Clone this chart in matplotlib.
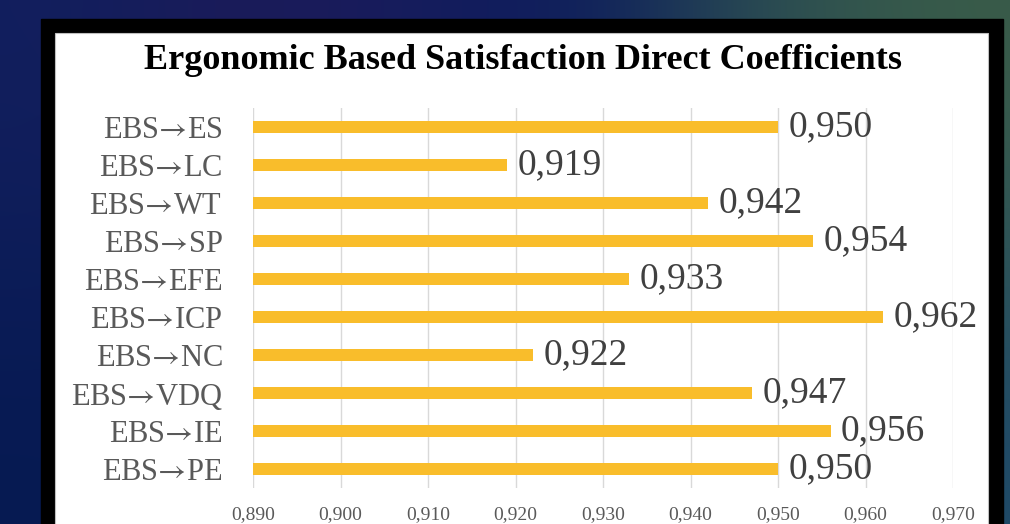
import numpy as np
import matplotlib
matplotlib.use("Agg")
import matplotlib.pyplot as plt
from matplotlib.patches import Rectangle

categories = ["ES", "LC", "WT", "SP", "EFE", "ICP", "NC", "VDQ", "IE", "PE"]
values = [0.950, 0.919, 0.942, 0.954, 0.933, 0.962, 0.922, 0.947, 0.956, 0.950]
xticks = [0.890, 0.900, 0.910, 0.920, 0.930, 0.940, 0.950, 0.960, 0.970]
title = "Ergonomic Based Satisfaction Direct Coefficients"

serif = ["Liberation Serif", "DejaVu Serif"]
plt.rcParams["font.family"] = serif
# thin Times-like arrow from STIX (unicode token -> no relation spacing)
plt.rcParams["mathtext.fontset"] = "stix"

W, H = 1010, 524
fig = plt.figure(figsize=(W / 100, H / 100), dpi=100)

# background: gradient slide + black frame + white panel
bg = fig.add_axes([0, 0, 1, 1])
top = ["#121f5e", "#1e1a58", "#161d5e", "#0c1c5c", "#2c4f52", "#3a5c48"]
bot = ["#061a52", "#071a55", "#081b58", "#0a1d5a", "#16365f", "#1f4a68"]
hex2rgb = lambda h: [int(h[i:i + 2], 16) / 255 for i in (1, 3, 5)]
grid = np.array([[hex2rgb(c) for c in top], [hex2rgb(c) for c in bot]])
bg.imshow(grid, extent=[0, W, H, 0], aspect="auto", interpolation="bicubic")
bg.add_patch(Rectangle((41, 19), 962, 520, color="black"))
bg.add_patch(Rectangle((55, 33), 933, 510, facecolor="white", edgecolor="#bfbfbf", lw=0.8))
bg.set_xlim(0, W)
bg.set_ylim(H, 0)
bg.axis("off")

ax = fig.add_axes([253 / W, (H - 488) / H, 700 / W, 380 / H])
ax.set_facecolor("none")
y = np.arange(len(categories))
ax.barh(y, values, height=0.33, color="#F9BD2B", zorder=2)
for yi, v in zip(y, values):
    ax.text(v + 0.0012, yi, f"{v:.3f}".replace(".", ","), va="center", ha="left",
            fontsize=27, color="#404040", zorder=3)

ax.set_xlim(0.890, 0.970)
ax.set_ylim(len(categories) - 0.5, -0.5)
ax.set_xticks(xticks)
ax.set_xticklabels([f"{t:.3f}".replace(".", ",") for t in xticks])
ax.set_yticks(y)
ax.set_yticklabels(["EBS$→$" + c for c in categories])
ax.tick_params(axis="x", length=0, pad=13, labelsize=14, labelcolor="#595959")
ax.tick_params(axis="y", length=0, pad=22, labelsize=22, labelcolor="#595959")
ax.grid(axis="x", color="#d9d9d9", lw=1, zorder=0)
for s in ax.spines.values():
    s.set_visible(False)

fig.text(523 / W, 1 - 61 / H, title, ha="center", va="center",
         fontsize=26, fontweight="bold", color="black")

fig.savefig("out.png", dpi=100)
